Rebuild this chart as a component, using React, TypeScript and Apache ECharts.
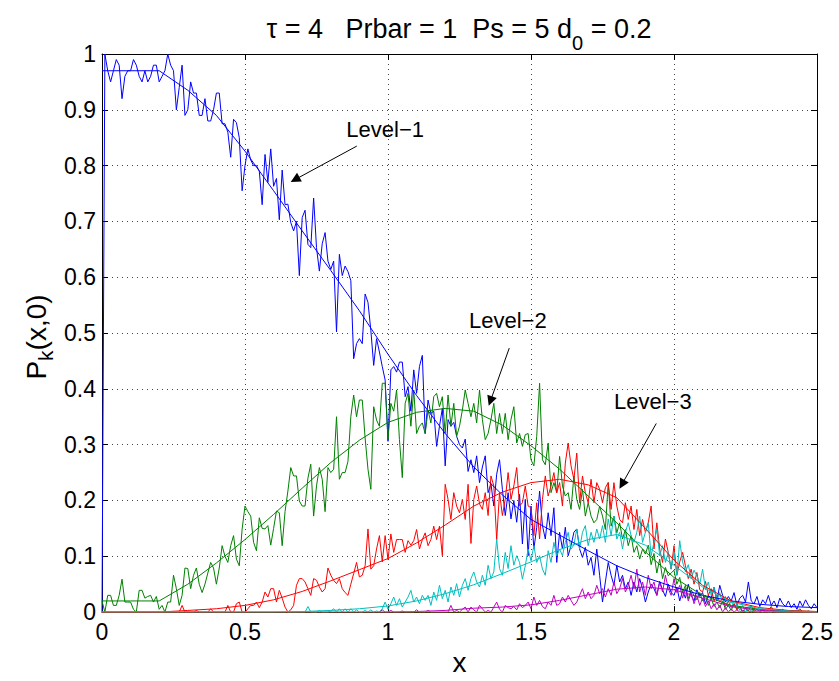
import React, { useEffect, useRef } from 'react';
import * as echarts from 'echarts';

// ---- data ----
// noisy (simulated) curves, sampled every 0.01 in x, starting at the given x
const noisyStep = 0.01;
const blueStart = 0;
const blueNoisy = [
  0, 1.0, .97, .95, .97, .99, .98, .92, .96, .97,
  .97, .99, .98, .96, .95, .97, .95, .96, .98, .98,
  .95, .96, .97, 1.0, .98, .97, .90, .94, .98, .89,
  .90, .95, .93, .93, .89, .89, .92, .88, .88, .90,
  .93, .93, .875, .875, .86, .815, .883, .877, .85, .755,
  .80, .83, .81, .80, .80, .79, .73, .82, .77, .83,
  .763, .777, .703, .792, .73, .731, .698, .683, .70, .603,
  .707, .72, .659, .653, .742, .653, .611, .66, .68, .629,
  .614, .629, .502, .641, .603, .62, .61, .594, .454, .481,
  .49, .481, .57, .555, .505, .442, .49, .466, .44, .416,
  .306, .434, .44, .43, .448, .448, .386, .404, .36, .434,
  .392, .44, .46, .32, .38, .356, .36, .297, .333, .365,
  .262, .345, .333, .34, .315, .30, .294, .31, .252, .273,
  .25, .28, .232, .26, .28, .214, .23, .19, .247, .273,
  .22, .173, .214, .167, .20, .161, .211, .122, .202, .101,
  .19, .113, .152, .217, .155, .131, .178, .137, .187, .089,
  .143, .113, .152, .101, .119, .143, .149, .113, .098, .116,
  .084, .098, .066, .113, .066, .018, .054, .089, .066, .048,
  .084, .054, .066, .042, .054, .03, .054, .036, .06, .042,
  .018, .036, .05, .042, .03, .055, .04, .028, .05, .035,
  .03, .045, .02, .038, .025, .05, .03, .02, .04, .028,
  .035, .015, .03, .025, .045, .02, .048, .03, .018, .028,
  .02, .035, .012, .025, .03, .018, .054, .02, .015, .028,
  .01, .022, .015, .03, .012, .02, .008, .025, .015, .01,
  .02, .008, .015, .005, .02, .01, .022, .012, .006, .015,
  .008,
];
const greenStart = 0;
const greenNoisy = [
  .02, .0, .03, .03, .012, .012, .03, .059, .018, .018,
  .018, .005, .0, .039, .039, .025, .028, .03, .018, .028,
  .005, .012, .0, .018, .018, .066, .042, .012, .03, .079,
  .078, .042, .066, .079, .05, .035, .05, .07, .089, .079,
  .05, .079, .119, .10, .089, .119, .137, .095, .083, .149,
  .19, .18, .172, .125, .11, .169, .15, .149, .155, .12,
  .15, .181, .178, .119, .18, .217, .259, .244, .244, .199,
  .19, .19, .24, .265, .172, .226, .259, .238, .18, .259,
  .25, .256, .35, .238, .25, .25, .27, .35, .389, .35,
  .38, .38, .312, .256, .22, .368, .344, .333, .41, .41,
  .309, .374, .36, .398, .309, .241, .374, .392, .333, .398,
  .32, .333, .339, .32, .362, .339, .386, .392, .368, .386,
  .32, .389, .333, .374, .315, .333, .362, .398, .374, .35,
  .374, .339, .398, .345, .309, .32, .345, .374, .32, .356,
  .32, .356, .309, .345, .368, .303, .32, .297, .318, .32,
  .273, .262, .315, .41, .273, .264, .303, .214, .232, .214,
  .279, .226, .208, .214, .184, .244, .202, .184, .22, .172,
  .196, .172, .16, .166, .19, .172, .148, .232, .154, .172,
  .142, .16, .131, .148, .119, .137, .107, .119, .095, .113,
  .104, .12, .085, .105, .07, .095, .06, .08, .065, .07,
  .075, .05, .062, .035, .048, .024, .04, .03, .022, .035,
  .02, .03, .012, .025, .01, .018, .008, .02, .005, .012,
  .003, .015, .005, .01, .0, .008, .002, .012, .0, .005,
  .0, .006, .0, .003, .01, .0, .002, .0, .005, .0,
  .0, .003, .0, .0, .006, .0, .0, .002, .0, .0,
  .0,
];
const redStart = 0;
const redNoisy = [
  0, 0, 0, 0, 0, 0, 0, 0, 0, 0,
  0, 0, 0, 0, 0, 0, 0, 0, 0, 0,
  0, 0, 0, 0, 0, 0, 0, 0, .012, 0,
  0, 0, 0, .003, 0, 0, 0, 0, .006, 0,
  0, 0, 0, 0, .012, 0, 0, .015, .018, 0,
  0, .006, .012, .012, .018, .008, .018, .036, .027, .042,
  .042, .018, .039, .025, .009, 0, .004, .012, .048, .06,
  .06, .054, .042, .03, .06, .057, .045, .036, .042, .079,
  .066, .057, .051, .06, .042, .035, .03, .05, .069, .089,
  .063, .066, .083, .149, .077, .083, .113, .137, .09, .137,
  .094, .14, .107, .13, .13, .13, .107, .128, .12, .128,
  .148, .113, .13, .142, .119, .13, .154, .13, .154, .101,
  .229, .202, .166, .214, .19, .178, .202, .166, .229, .123,
  .202, .226, .194, .184, .214, .173, .244, .226, .13, .214,
  .173, .202, .25, .202, .226, .259, .19, .196, .226, .19,
  .187, .137, .196, .131, .202, .244, .208, .226, .25, .214,
  .232, .19, .267, .303, .262, .238, .285, .196, .244, .214,
  .196, .238, .196, .232, .22, .196, .223, .232, .184, .232,
  .19, .166, .16, .196, .166, .19, .148, .184, .137, .166,
  .143, .16, .19, .113, .16, .113, .089, .131, .107, .077,
  .119, .066, .09, .107, .083, .06, .077, .05, .071, .04,
  .036, .055, .03, .042, .02, .03, .018, .025, .01, .02,
  .008, .015, .004, .01, 0, .006, .002, 0, .004, 0,
  0, .004, 0, 0, .003, 0, 0, .002, 0, 0,
  0, 0, 0, 0, 0, 0, 0, 0, 0, 0,
  0,
];
const cyanStart = 0.65;
const cyanNoisy = [
  0, 0, 0, 0, 0,
  0, 0, .01, 0, 0, 0, .003, 0, 0, 0,
  .002, .006, 0, .006, 0, .006, 0, .006, 0, .004,
  0, 0, .003, 0, .004, 0, .002, 0, .006, .018,
  .005, .015, .027, .012, .024, .009, .018, .027, .039, .018,
  .027, .015, .03, .021, .03, .012, .036, .021, .048, .024,
  .039, .018, .045, .03, .051, .027, .048, .06, .039, .06,
  .072, .054, .045, .066, .048, .084, .06, .072, .131, .078,
  .066, .107, .078, .119, .084, .101, .089, .059, .083, .113,
  .092, .119, .089, .101, .077, .066, .11, .089, .125, .101,
  .113, .101, .125, .143, .113, .12, .149, .113, .143, .155,
  .119, .143, .125, .149, .131, .155, .125, .167, .137, .172,
  .131, .143, .113, .143, .16, .137, .125, .143, .172, .125,
  .143, .16, .101, .125, .149, .101, .119, .089, .107, .077,
  .107, .066, .128, .09, .072, .085, .06, .075, .065, .05,
  .077, .04, .054, .03, .045, .022, .035, .015, .028, .01,
  .02, .008, .015, .003, .012, 0, .008, 0, .005, 0,
  .004, 0, .002, 0, 0, .003, 0, 0, 0, 0,
  0, 0, 0, 0, 0, 0, 0, 0, 0, 0,
  0,
];
const magentaStart = 0.97;
const magentaNoisy = [
  0, .004, 0,
  0, .003, 0, 0, 0, .002, 0, 0, 0, 0,
  .004, 0, 0, 0, .003, 0, 0, 0, 0, 0,
  0, 0, .012, 0, .003, 0, .005, .009, 0, .009,
  .004, 0, .012, .006, 0, .003, 0, .009, .018, .005,
  0, .012, .008, .006, .01, .004, .015, .008, .012, .018,
  .006, .027, .012, .021, .01, .006, .018, .012, .03, .012,
  .015, .027, .018, .03, .021, .012, .018, .03, .042, .024,
  .036, .024, .03, .048, .033, .042, .027, .042, .03, .054,
  .033, .042, .06, .036, .048, .066, .042, .077, .036, .054,
  .03, .066, .042, .054, .03, .054, .036, .066, .042, .03,
  .06, .035, .048, .025, .042, .02, .035, .015, .03, .012,
  .025, .01, .02, .006, .015, .004, .012, 0, .008, 0,
  .006, 0, .004, 0, .003, 0, 0, .002, 0, 0,
  0, 0, 0, 0, 0, 0, 0, 0, 0, 0,
  0, 0, 0, 0, 0, 0, 0, 0, 0, 0,
  0,
];

// fitted (smooth) curves, sampled every 0.1 in x from 0 to 2.5
const smoothStep = 0.1;
const blueSmooth = [.97, .97, .97, .935, .89, .826, .755, .683, .612, .54, .462, .388, .32, .26, .21, .166, .138, .11, .083, .062, .045, .03, .02, .014, .01, .008];
const greenSmooth = [.02, .02, .02, .05, .088, .13, .175, .222, .268, .308, .34, .358, .365, .36, .335, .298, .256, .208, .16, .108, .062, .03, .012, .005, .002, .001];
const redSmooth = [0, 0, 0, .003, .006, .012, .022, .037, .056, .076, .096, .124, .156, .19, .215, .232, .238, .228, .205, .15, .093, .048, .02, .008, .003, .001];
const cyanSmooth = [0, 0, 0, 0, 0, 0, 0, .001, .003, .006, .011, .02, .033, .049, .069, .09, .112, .13, .139, .12, .084, .045, .018, .006, .002, 0];
const magentaSmooth = [0, 0, 0, 0, 0, 0, 0, 0, 0, 0, 0, .001, .003, .007, .009, .013, .021, .031, .041, .045, .04, .025, .01, .003, .001, 0];
const level0 = [0, 0, 0, 0, 0, 0, 0, 0, 0, 0, 0, 0, 0, 0, 0, 0, 0, 0, 0, 0, 0, 0, 0, 0, 0, 0];

const xTickInterval = 0.5;
const yTickInterval = 0.1;

const annotationTexts = ['Level\u22121', 'Level\u22122', 'Level\u22123'];
const annotationTextAt = [[0.99, 0.865], [1.419, 0.523], [1.926, 0.377]];
const arrowFrom = [[0.891, 0.835], [1.424, 0.473], [1.938, 0.338]];
const arrowTo = [[0.675, 0.775], [1.358, 0.378], [1.818, 0.229]];

const titleParts = ['\u03c4 = 4   Prbar = 1  Ps = 5 d', '0', ' = 0.2'];
const yLabelParts = ['P', 'k', '(x,0)'];

// ---- helpers ----
const toPairs = (vals: number[], start: number, step: number) =>
  vals.map((v, i) => [Number((start + i * step).toFixed(3)), v]);

const FONT = '"Liberation Sans", Arial, Helvetica, sans-serif';

const lineSeries = (name: string, data: number[][], color: string, extra: any = {}) => ({
  name,
  type: 'line',
  data,
  showSymbol: false,
  symbol: 'none',
  silent: true,
  lineStyle: { color, width: 1 },
  itemStyle: { color },
  emphasis: { disabled: true },
  ...extra,
});

export default function App() {
  const ref = useRef<HTMLDivElement>(null);

  useEffect(() => {
    if (!ref.current) return;
    const chart = echarts.init(ref.current, null, { renderer: 'svg' });

    const axisLineStyle = { color: '#000', width: 1 };
    const option: any = {
      animation: false,
      backgroundColor: '#ffffff',
      grid: { left: 102, right: 22, top: 54, bottom: 64 },
      xAxis: [
        {
          type: 'value', min: 0, max: 2.5, interval: xTickInterval, position: 'bottom',
          axisLine: { show: true, onZero: false, lineStyle: axisLineStyle },
          axisTick: { show: true, inside: true, length: 6, lineStyle: axisLineStyle },
          axisLabel: { color: '#000', fontSize: 23, fontFamily: FONT, margin: 8 },
          splitLine: { show: true, lineStyle: { color: '#444', width: 1, type: [1, 4] } },
          name: 'x', nameLocation: 'middle', nameGap: 27,
          nameTextStyle: { color: '#000', fontSize: 28, fontFamily: FONT },
        },
        {
          type: 'value', min: 0, max: 2.5, interval: xTickInterval, position: 'top',
          axisLine: { show: true, onZero: false, lineStyle: axisLineStyle },
          axisTick: { show: true, inside: true, length: 6, lineStyle: axisLineStyle },
          axisLabel: { show: false },
          splitLine: { show: false },
        },
      ],
      yAxis: [
        {
          type: 'value', min: 0, max: 1, interval: yTickInterval, position: 'left',
          axisLine: { show: true, onZero: false, lineStyle: axisLineStyle },
          axisTick: { show: true, inside: true, length: 6, lineStyle: axisLineStyle },
          axisLabel: { color: '#000', fontSize: 23, fontFamily: FONT, margin: 6 },
          splitLine: { show: true, lineStyle: { color: '#444', width: 1, type: [1, 4] } },
        },
        {
          type: 'value', min: 0, max: 1, interval: yTickInterval, position: 'right',
          axisLine: { show: true, onZero: false, lineStyle: axisLineStyle },
          axisTick: { show: true, inside: true, length: 6, lineStyle: axisLineStyle },
          axisLabel: { show: false },
          splitLine: { show: false },
        },
      ],
      series: [
        lineSeries('Level-1 sim', toPairs(blueNoisy, blueStart, noisyStep), '#0000ff'),
        lineSeries('Level-2 sim', toPairs(greenNoisy, greenStart, noisyStep), '#008000'),
        lineSeries('Level-3 sim', toPairs(redNoisy, redStart, noisyStep), '#ff0000'),
        lineSeries('Level-4 sim', toPairs(cyanNoisy, cyanStart, noisyStep), '#00bfbf'),
        lineSeries('Level-5 sim', toPairs(magentaNoisy, magentaStart, noisyStep), '#bf00bf'),
        lineSeries('Level-1', toPairs(blueSmooth, 0, smoothStep), '#0000ff'),
        lineSeries('Level-2', toPairs(greenSmooth, 0, smoothStep), '#008000'),
        lineSeries('Level-3', toPairs(redSmooth, 0, smoothStep), '#ff0000'),
        lineSeries('Level-4', toPairs(cyanSmooth, 0, smoothStep), '#00bfbf'),
        lineSeries('Level-5', toPairs(magentaSmooth, 0, smoothStep), '#bf00bf'),
        lineSeries('Level-0', toPairs(level0, 0, smoothStep), '#bfbf00', {
          markLine: {
            silent: true,
            symbol: ['none', 'triangle'],
            symbolSize: 10,
            label: { show: false },
            lineStyle: { color: '#000', width: 1, type: 'solid' },
            itemStyle: { color: '#000' },
            emphasis: { disabled: true },
            data: arrowFrom.map((f, i) => [{ coord: f }, { coord: arrowTo[i] }]),
          },
          markPoint: {
            silent: true,
            symbol: 'rect',
            symbolSize: 1,
            itemStyle: { color: 'rgba(0,0,0,0)' },
            label: {
              show: true, position: 'inside', formatter: '{b}',
              color: '#000', fontSize: 22, fontFamily: FONT,
            },
            data: annotationTexts.map((t, i) => ({ name: t, coord: annotationTextAt[i] })),
          },
        }),
      ],
      graphic: [
        {
          type: 'text',
          x: 459,
          y: 15,
          silent: true,
          style: {
            text: `{a|${titleParts[0]}}{s|${titleParts[1]}}{a|${titleParts[2]}}`,
            align: 'center',
            verticalAlign: 'top',
            fill: '#000',
            rich: {
              a: { fontSize: 27, fontFamily: FONT, lineHeight: 30, verticalAlign: 'top', fill: '#000' },
              s: { fontSize: 20, fontFamily: FONT, lineHeight: 38, verticalAlign: 'bottom', fill: '#000' },
            },
          },
        },
        {
          type: 'text',
          x: 39,
          y: 337,
          rotation: Math.PI / 2,
          silent: true,
          style: {
            text: `{a|${yLabelParts[0]}}{s|${yLabelParts[1]}}{a|${yLabelParts[2]}}`,
            align: 'center',
            verticalAlign: 'middle',
            fill: '#000',
            rich: {
              a: { fontSize: 28, fontFamily: FONT, lineHeight: 30, verticalAlign: 'top', fill: '#000' },
              s: { fontSize: 21, fontFamily: FONT, lineHeight: 34, verticalAlign: 'bottom', fill: '#000' },
            },
          },
        },
      ],
    };

    chart.setOption(option);
    return () => chart.dispose();
  }, []);

  return (
    <div
      ref={ref}
      style={{ position: 'fixed', left: 0, top: 0, width: 839, height: 681, background: '#fff' }}
    />
  );
}
